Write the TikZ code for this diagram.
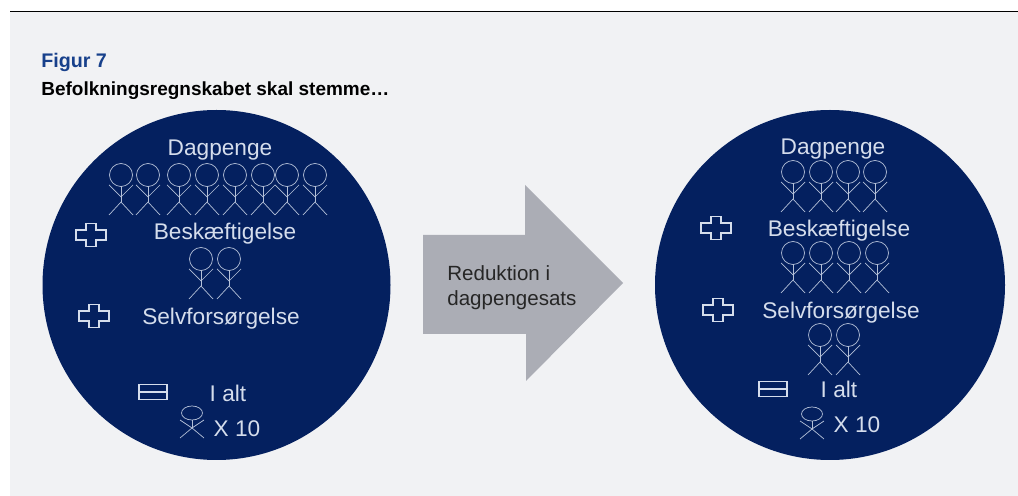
\documentclass[tikz,border=0pt]{standalone}
\usepackage{fontspec}
\setmainfont{Liberation Sans}
\definecolor{panel}{HTML}{F1F2F4}
\definecolor{navy}{HTML}{04205F}
\definecolor{ink}{HTML}{D5DDEC}
\definecolor{thinink}{HTML}{B4C0D8}
\definecolor{arrowgrey}{HTML}{ABADB5}
\definecolor{figblue}{HTML}{17408B}
\tikzset{
  lab/.style={text=ink,font=\fontsize{12.9}{15}\selectfont,inner sep=0pt,anchor=center},
  stick/.style={draw=thinink,line width=0.4pt},
  mark box/.style={draw=ink,line width=0.75pt,fill=none}
}
% person: #1 x of centre, #2 y of head centre, in px
\newcommand{\person}[2]{%
  \begin{scope}[shift={(#1,#2)},stick]
    \draw (0,0) ellipse [x radius=11.5,y radius=11.5];
    \draw (0,11.5) -- (0,27);
    \draw (-12,10) -- (0,22) -- (12,10);
    \draw (-12,40) -- (0,27) -- (12,40);
  \end{scope}}
\newcommand{\plusmark}[2]{%
  \begin{scope}[shift={(#1,#2)}]
    \draw[mark box] (-5,-11.5) -- (5,-11.5) -- (5,-5) -- (15,-5) -- (15,5) -- (5,5) -- (5,11.5) -- (-5,11.5) -- (-5,5) -- (-15,5) -- (-15,-5) -- (-5,-5) -- cycle;
  \end{scope}}
\newcommand{\equalsmark}[2]{%
  \begin{scope}[shift={(#1,#2)}]
    \draw[mark box] (-14,-7.5) rectangle (14,7.5);
    \draw[mark box] (-14,0) -- (14,0);
  \end{scope}}
\newcommand{\smallperson}[2]{%
  \begin{scope}[shift={(#1,#2)},stick]
    \draw (0,0) ellipse [x radius=10.5,y radius=7];
    \draw (0,7) -- (0,15);
    \draw (-12,7) -- (0,15) -- (12,7);
    \draw (-12,25) -- (0,15) -- (12,25);
  \end{scope}}
\begin{document}
\begin{tikzpicture}[x=0.02cm,y=-0.02cm]
\useasboundingbox (0,0) rectangle (1018,496);
\fill[white] (0,0) rectangle (1018,496);
\fill[panel] (10,12) rectangle (1018,496);
\draw[black,line width=0.8pt] (10,11.5) -- (1018,11.5);
\node[anchor=base west,inner sep=0pt,text=figblue,font=\bfseries\fontsize{11.2}{13}\selectfont] (fig) at (41,68) {Figur 7};
\node[anchor=base west,inner sep=0pt,font=\bfseries\fontsize{10.8}{13}\selectfont] (title) at (41,96) {Befolkningsregnskabet skal stemme…};
% left circle
\fill[navy] (216.5,285) ellipse [x radius=174,y radius=175];
\node[lab] (d1) at (220,150) {Dagpenge};
\foreach \x in {121,148,179,207,235,263,287,315} {\person{\x}{175}}
\node[lab] (b1) at (225,234) {Beskæftigelse};
\plusmark{91}{235}
\person{201}{259}
\person{229}{259}
\plusmark{94}{316}
\node[lab] (s1) at (221,319) {Selvforsørgelse};
\equalsmark{153}{392}
\node[lab] (a1) at (228,393) {I alt};
\smallperson{192}{413}
\node[lab] (x1) at (237,429) {X 10};
% arrow
\fill[arrowgrey] (423,235) -- (525,235) -- (525,185) -- (623,283) -- (526,381) -- (526,334) -- (423,334) -- cycle;
\node[anchor=west,align=left,inner sep=0pt,font=\fontsize{11.7}{14}\selectfont,text=black!85] (r) at (447,287.5) {Reduktion i\\dagpengesats};
% right circle
\fill[navy] (830,285) ellipse [x radius=175,y radius=175];
\node[lab] (d2) at (833,149) {Dagpenge};
\foreach \x in {793,821,848,875} {\person{\x}{172}}
\node[lab] (b2) at (839,231) {Beskæftigelse};
\plusmark{716}{228}
\foreach \x in {793,821,849,877} {\person{\x}{253}}
\plusmark{718}{310}
\node[lab] (s2) at (841,313) {Selvforsørgelse};
\person{820}{335}
\person{848}{335}
\equalsmark{773}{389}
\node[lab] (a2) at (839,389) {I alt};
\smallperson{812}{414}
\node[lab] (x2) at (857,425) {X 10};
\end{tikzpicture}
\end{document}
